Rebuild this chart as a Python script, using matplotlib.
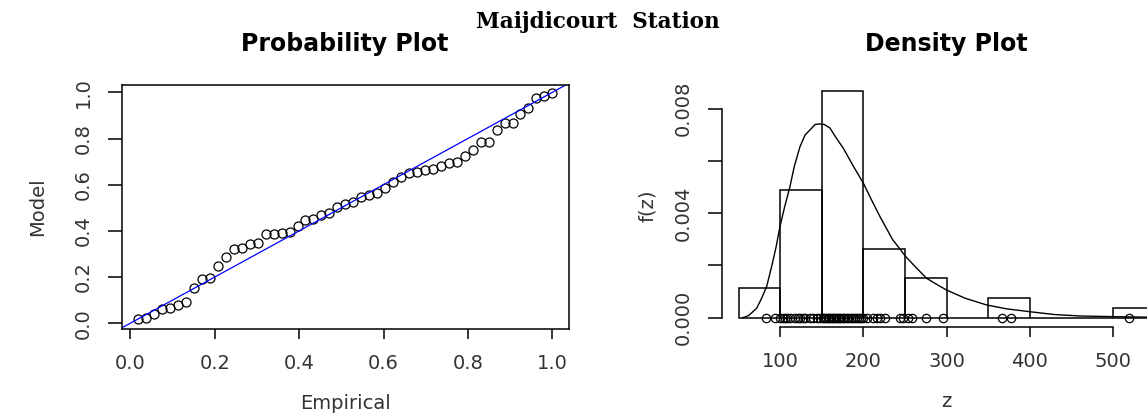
import matplotlib
matplotlib.use("Agg")
import matplotlib.pyplot as plt
import numpy as np

obs_z = [83, 94, 100, 103, 106, 108, 112, 118, 122, 124, 128, 130, 136, 140,
         144, 148, 151, 153, 155, 157, 159, 161, 163, 165, 167, 169, 171, 173,
         175, 177, 180, 182, 185, 187, 190, 192, 195, 197, 199, 204, 212, 216,
         220, 226, 244, 248, 254, 258, 275, 296, 367, 377, 519]

# fitted model probabilities for each sorted observation
model_p = [0.017, 0.022, 0.040, 0.062, 0.065, 0.079, 0.091, 0.152, 0.192, 0.195,
           0.248, 0.288, 0.322, 0.327, 0.343, 0.349, 0.386, 0.388, 0.392, 0.394,
           0.421, 0.447, 0.450, 0.468, 0.476, 0.505, 0.515, 0.527, 0.545, 0.555,
           0.563, 0.584, 0.613, 0.635, 0.649, 0.654, 0.664, 0.668, 0.681, 0.693,
           0.697, 0.724, 0.750, 0.784, 0.786, 0.837, 0.866, 0.869, 0.906, 0.931,
           0.975, 0.982, 0.995]

# histogram
bin_edges = [50, 100, 150, 200, 250, 300, 350, 400, 450, 500, 550]
bin_counts = [3, 13, 23, 7, 4, 0, 2, 0, 0, 1]

# fitted density curve
curve_z = [55, 62, 71.6, 77, 83.7, 90, 95, 99.7, 105, 111.7, 117, 123.8, 130,
           135.8, 142, 147.8, 153, 159.9, 167, 175.9, 188, 200, 210, 220, 235,
           251, 264, 276, 288, 300, 322, 348, 372, 400, 430, 461, 500, 541, 570]
curve_f = [0.0, 0.00008, 0.00036, 0.0007, 0.00119, 0.0020, 0.0027, 0.00349,
           0.0042, 0.00502, 0.0058, 0.00655, 0.0070, 0.00719, 0.0074, 0.00742,
           0.0074, 0.00726, 0.0069, 0.00649, 0.0058, 0.00515, 0.0045, 0.00387,
           0.0030, 0.00234, 0.0019, 0.00151, 0.00128, 0.00106, 0.00075, 0.00049,
           0.00034, 0.00023, 0.00012, 0.000065, 0.00004, 0.00002, 0.00001]

n = len(obs_z)
empirical = np.arange(1, n + 1) / n
bin_w = np.diff(bin_edges)
density = np.array(bin_counts) / (n * bin_w)

W, H = 1147, 415
fig = plt.figure(figsize=(W / 100, H / 100), dpi=100)
plt.rcParams['font.family'] = 'DejaVu Sans'
LAB = '#333333'
FS = 14


def px(x, y):
    return x / W, 1 - y / H


# ---- probability plot ----
ax1 = fig.add_axes([121.7 / W, 1 - 329 / H, 447.1 / W, 244.3 / H])
ax1.plot(empirical, model_p, 'o', mfc='none', mec='black', ms=6.5, mew=0.9)
ax1.axline((0, 0), slope=1, color='blue', lw=0.9)
ax1.set_xlim(-0.0204, 1.039)
ax1.set_ylim(-0.025, 1.033)
ax1.set_xticks([0, 0.2, 0.4, 0.6, 0.8, 1.0])
ax1.set_xticklabels(['0.0', '0.2', '0.4', '0.6', '0.8', '1.0'])
ax1.set_yticks([0, 0.2, 0.4, 0.6, 0.8, 1.0])
ax1.set_yticklabels(['0.0', '0.2', '0.4', '0.6', '0.8', '1.0'],
                    rotation=90, va='center')
for s in ax1.spines.values():
    s.set_linewidth(1.1)
ax1.tick_params(axis='x', length=7.2, width=1.1, pad=11, labelsize=FS,
                labelcolor=LAB)
ax1.tick_params(axis='y', length=10, width=1.1, pad=11, labelsize=FS,
                labelcolor=LAB)

# ---- density plot ----
ax2 = fig.add_axes([722 / W, 1 - 326.7 / H, 449 / W, 242.2 / H])
ax2.bar(bin_edges[:-1], density, width=bin_w, align='edge', fill=False,
        edgecolor='black', lw=1.1)
ax2.plot(curve_z, curve_f, color='black', lw=1)
ax2.plot(obs_z, np.zeros(n), 'o', mfc='none', mec='black', ms=6, mew=0.9)
ax2.set_xlim(30, 570)
ax2.set_ylim(-0.000345, 0.00893)
ax2.spines['top'].set_visible(False)
ax2.spines['right'].set_visible(False)
ax2.spines['left'].set_bounds(0, 0.008)
ax2.spines['bottom'].set_bounds(100, 500)
for s in ax2.spines.values():
    s.set_linewidth(1.1)
ax2.set_xticks([100, 200, 300, 400, 500])
ax2.set_yticks([0, 0.002, 0.004, 0.006, 0.008])
ax2.set_yticklabels(['0.000', '', '0.004', '', '0.008'], rotation=90, va='center')
ax2.tick_params(axis='x', length=7.2, width=1.1, pad=11, labelsize=FS,
                labelcolor=LAB)
ax2.tick_params(axis='y', length=10, width=1.1, pad=11, labelsize=FS,
                labelcolor=LAB)

# ---- titles and labels ----
fig.text(*px(598, 21.7), 'Maijdicourt  Station', family='DejaVu Serif',
         weight='bold', fontsize=15.5, ha='center', va='center')
fig.text(*px(345, 44), 'Probability Plot', weight='bold', fontsize=17,
         ha='center', va='center')
fig.text(*px(946.5, 44), 'Density Plot', weight='bold', fontsize=17,
         ha='center', va='center')
fig.text(*px(345, 403.3), 'Empirical', fontsize=FS, color=LAB,
         ha='center', va='center')
fig.text(*px(946.5, 401.7), 'z', fontsize=FS, color=LAB,
         ha='center', va='center')
fig.text(*px(38, 206.8), 'Model', fontsize=FS, color=LAB, rotation=90,
         ha='center', va='center')
fig.text(*px(648, 205.6), 'f(z)', fontsize=FS, color=LAB, rotation=90,
         ha='center', va='center')

fig.savefig('out.png', dpi=100)
